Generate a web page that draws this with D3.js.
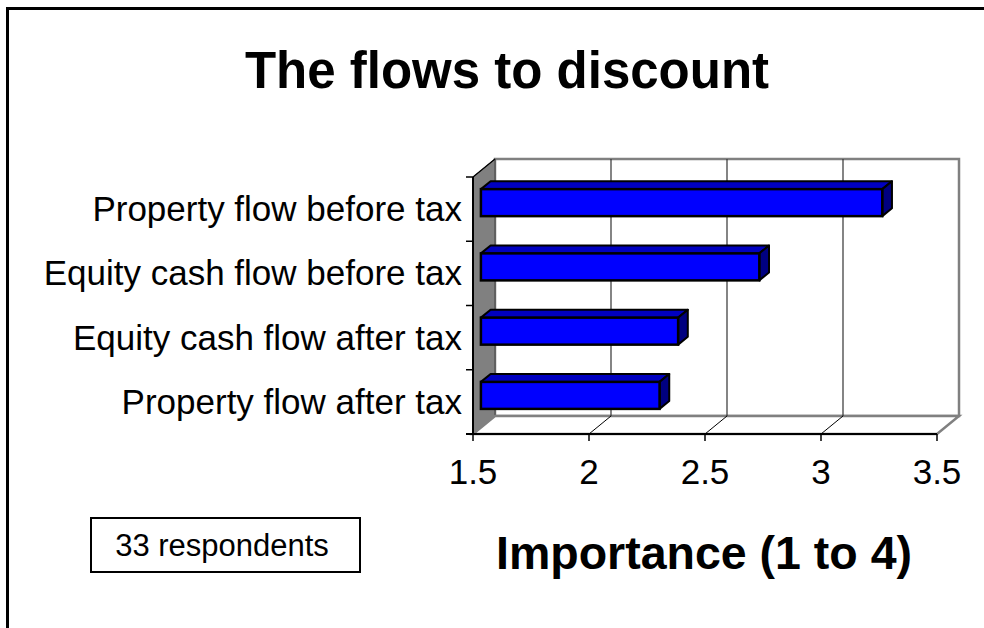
<!DOCTYPE html>
<html>
<head>
<meta charset="utf-8">
<script src="https://cdn.jsdelivr.net/npm/d3@7"></script>
<style>
  html, body { margin: 0; padding: 0; background: #fff; }
  svg { display: block; font-family: Arial, "Liberation Sans", sans-serif; }
</style>
</head>
<body>
<svg id="chart" width="984" height="628"></svg>
<script>
// Flow types, listed from top to bottom
const categories = [
  "Property flow before tax",
  "Equity cash flow before tax",
  "Equity cash flow after tax",
  "Property flow after tax"
];
// Mean importance score (1 to 4)
const importance = [3.23, 2.70, 2.35, 2.27];
const xTicks = [1.5, 2, 2.5, 3, 3.5];
const titleText = "The flows to discount";
const axisTitle = "Importance (1 to 4)";
const noteText = "33 respondents";

const svg = d3.select("#chart");

// Front plane of the 3D box
const x = d3.scaleLinear().domain([1.5, 3.5]).range([473, 937]);
const y = d3.scaleBand().domain(categories).range([177, 434]).paddingInner(0).paddingOuter(0);

// Depth offset vector for the full depth of the box
const DX = 22, DY = -18;
const off = t => [DX * t, DY * t];

// Outer frame
svg.append("rect")
  .attr("x", 7.5).attr("y", 8.5)
  .attr("width", 1100).attr("height", 1100)
  .attr("fill", "none").attr("stroke", "#000").attr("stroke-width", 3);

// Title
svg.append("text")
  .attr("x", 507).attr("y", 88)
  .attr("text-anchor", "middle")
  .attr("font-weight", "bold").attr("font-size", 51)
  .text(titleText);

const x0 = x(1.5), x1 = x(3.5);
const yTop = y.range()[0], yBot = y.range()[1];
const [bx, by] = off(1);

// Back wall
svg.append("rect")
  .attr("x", x0 + bx).attr("y", yTop + by)
  .attr("width", x1 - x0).attr("height", yBot - yTop)
  .attr("fill", "#fff").attr("stroke", "#808080").attr("stroke-width", 2.5);

// Side wall (grey)
svg.append("polygon")
  .attr("points", [[x0, yTop], [x0 + bx, yTop + by], [x0 + bx, yBot + by], [x0, yBot]].join(" "))
  .attr("fill", "#808080").attr("stroke", "#404040").attr("stroke-width", 1);

// Floor
svg.append("polygon")
  .attr("points", [[x0, yBot], [x0 + bx, yBot + by], [x1 + bx, yBot + by], [x1, yBot]].join(" "))
  .attr("fill", "#fff").attr("stroke", "#808080").attr("stroke-width", 2.5);

// Gridlines on the back wall and across the floor
const inner = xTicks.filter(v => v > 1.5 && v < 3.5);
svg.append("g").selectAll("line").data(inner).join("line")
  .attr("x1", d => x(d) + bx).attr("x2", d => x(d) + bx)
  .attr("y1", yTop + by).attr("y2", yBot + by)
  .attr("stroke", "#333").attr("stroke-width", 1.2);
svg.append("g").selectAll("line").data(inner).join("line")
  .attr("x1", d => x(d)).attr("x2", d => x(d) + bx)
  .attr("y1", yBot).attr("y2", yBot + by)
  .attr("stroke", "#000").attr("stroke-width", 1);

// Side wall top edge
svg.append("line")
  .attr("x1", x0).attr("y1", yTop).attr("x2", x0 + bx).attr("y2", yTop + by)
  .attr("stroke", "#000").attr("stroke-width", 1.2);

// Category axis
svg.append("line")
  .attr("x1", x0).attr("x2", x0).attr("y1", yTop).attr("y2", yBot)
  .attr("stroke", "#000").attr("stroke-width", 2);
const bounds = categories.map(c => y(c)).concat([yBot]);
svg.append("g").selectAll("line").data(bounds).join("line")
  .attr("x1", x0 - 7).attr("x2", x0).attr("y1", d => d).attr("y2", d => d)
  .attr("stroke", "#000").attr("stroke-width", 1.5);

// Value axis
svg.append("line")
  .attr("x1", x0 - 7).attr("x2", x1).attr("y1", yBot).attr("y2", yBot)
  .attr("stroke", "#000").attr("stroke-width", 2);
svg.append("g").selectAll("line").data(xTicks).join("line")
  .attr("x1", d => x(d)).attr("x2", d => x(d))
  .attr("y1", yBot).attr("y2", yBot + 7)
  .attr("stroke", "#000").attr("stroke-width", 1.5);
svg.append("g").selectAll("text").data(xTicks).join("text")
  .attr("x", d => x(d)).attr("y", 484)
  .attr("text-anchor", "middle").attr("font-size", 35)
  .text(d => d);

// Category labels
svg.append("g").selectAll("text").data(categories).join("text")
  .attr("x", 462).attr("y", d => y(d) + y.bandwidth() / 2 + 12)
  .attr("text-anchor", "end").attr("font-size", 35)
  .text(d => d);

// 3D bars
const tFront = 0.36, tBack = 0.80;
const barH = 27;
const [fx, fy] = off(tFront);
const [kx, ky] = off(tBack);
const dxD = kx - fx, dyD = ky - fy;
const bars = svg.append("g").selectAll("g").data(categories.map((c, i) => ({ c, v: importance[i] }))).join("g");
bars.each(function (d) {
  const g = d3.select(this);
  const left = x(1.5) + fx, right = x(d.v) + fx;
  const cy = y(d.c) + y.bandwidth() / 2 + fy;
  const top = cy - barH / 2, bot = cy + barH / 2;
  // top face
  g.append("polygon")
    .attr("points", [[left, top], [left + dxD, top + dyD], [right + dxD, top + dyD], [right, top]].join(" "))
    .attr("fill", "#0000C0").attr("stroke", "#000").attr("stroke-width", 2).attr("stroke-linejoin", "round");
  // end face
  g.append("polygon")
    .attr("points", [[right, top], [right + dxD, top + dyD], [right + dxD, bot + dyD], [right, bot]].join(" "))
    .attr("fill", "#000080").attr("stroke", "#000").attr("stroke-width", 2).attr("stroke-linejoin", "round");
  // front face
  g.append("rect")
    .attr("x", left).attr("y", top).attr("width", right - left).attr("height", barH)
    .attr("fill", "#0000FF").attr("stroke", "#000").attr("stroke-width", 2.5);
});

// Axis title
svg.append("text")
  .attr("x", 704).attr("y", 569)
  .attr("text-anchor", "middle")
  .attr("font-weight", "bold").attr("font-size", 46.5)
  .text(axisTitle);

// Respondents note
svg.append("rect")
  .attr("x", 91).attr("y", 518).attr("width", 269).attr("height", 54)
  .attr("fill", "#fff").attr("stroke", "#000").attr("stroke-width", 2);
svg.append("text")
  .attr("x", 222).attr("y", 556)
  .attr("text-anchor", "middle").attr("font-size", 31)
  .text(noteText);
</script>
</body>
</html>
